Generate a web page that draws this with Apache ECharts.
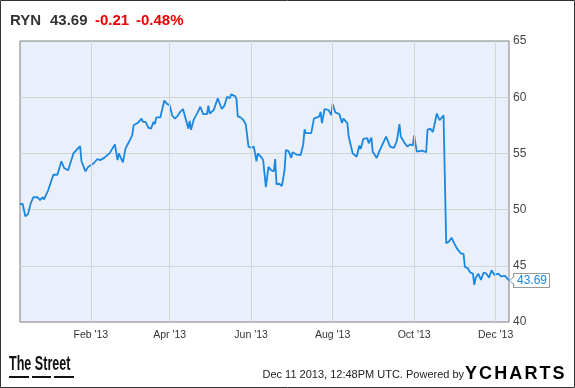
<!DOCTYPE html>
<html><head><meta charset="utf-8">
<script src="https://cdn.jsdelivr.net/npm/echarts@6/dist/echarts.min.js"></script>
<style>html,body{margin:0;padding:0;background:#fff}#c{width:575px;height:388px}</style>
</head><body><div id="c"></div>
<script>
const dates = ['2012-12-10','2012-12-12','2012-12-14','2012-12-16','2012-12-18','2012-12-20','2012-12-23','2012-12-25','2012-12-27','2012-12-28','2012-12-31',
'2013-01-04','2013-01-07','2013-01-10','2013-01-12','2013-01-15','2013-01-19','2013-01-22','2013-01-24','2013-01-25','2013-01-28','2013-01-30',
'2013-02-03','2013-02-04','2013-02-06','2013-02-08','2013-02-11','2013-02-15','2013-02-19','2013-02-21','2013-02-22','2013-02-25','2013-02-27',
'2013-03-01','2013-03-04','2013-03-05','2013-03-08','2013-03-11','2013-03-12','2013-03-14','2013-03-16','2013-03-18','2013-03-20','2013-03-21','2013-03-22','2013-03-25','2013-03-28','2013-03-30',
'2013-04-01','2013-04-03','2013-04-05','2013-04-07','2013-04-08','2013-04-09','2013-04-11','2013-04-12','2013-04-15','2013-04-16','2013-04-17','2013-04-19','2013-04-22','2013-04-24','2013-04-26','2013-04-29','2013-04-30',
'2013-05-01','2013-05-04','2013-05-07','2013-05-10','2013-05-12','2013-05-14','2013-05-16','2013-05-17','2013-05-20','2013-05-21','2013-05-22','2013-05-24','2013-05-26','2013-05-28','2013-05-30',
'2013-06-01','2013-06-03','2013-06-05','2013-06-06','2013-06-09','2013-06-10','2013-06-12','2013-06-14','2013-06-16','2013-06-18','2013-06-19','2013-06-20','2013-06-22','2013-06-24','2013-06-26','2013-06-27','2013-06-29',
'2013-07-01','2013-07-02','2013-07-05','2013-07-08','2013-07-10','2013-07-11','2013-07-12','2013-07-16','2013-07-18','2013-07-22','2013-07-23','2013-07-24','2013-07-26','2013-07-29','2013-07-31',
'2013-08-01','2013-08-03','2013-08-06','2013-08-08','2013-08-09','2013-08-12','2013-08-13','2013-08-16','2013-08-19','2013-08-21','2013-08-22','2013-08-24','2013-08-27','2013-08-28','2013-08-30','2013-08-31',
'2013-09-03','2013-09-05','2013-09-06','2013-09-10','2013-09-13','2013-09-16','2013-09-18','2013-09-20','2013-09-21','2013-09-24','2013-09-26','2013-09-28','2013-09-30',
'2013-10-01','2013-10-03','2013-10-05','2013-10-07','2013-10-10','2013-10-11','2013-10-13','2013-10-15','2013-10-18','2013-10-20','2013-10-21','2013-10-23','2013-10-25','2013-10-27','2013-10-29','2013-10-31',
'2013-11-02','2013-11-03','2013-11-05','2013-11-07','2013-11-08','2013-11-10','2013-11-12','2013-11-14','2013-11-15','2013-11-16','2013-11-18','2013-11-20','2013-11-22','2013-11-24','2013-11-26','2013-11-28','2013-11-30',
'2013-12-03','2013-12-05','2013-12-08','2013-12-11'];
const prices = [50.5,50.5,49.4,49.6,50.55,51.1,51.1,50.85,51.1,50.9,51.7,
53.1,53.1,54.3,53.7,53.5,55.0,55.4,55.65,54.3,53.4,53.8,
54.1,54.0,54.5,54.4,54.6,55.0,55.8,54.4,55.0,54.2,55.45,
55.9,56.6,57.5,57.7,58.1,57.8,57.8,57.3,57.2,57.8,57.6,58.2,58.2,59.7,59.4,
59.3,58.35,58.1,58.35,58.5,58.7,58.95,58.95,57.2,57.9,57.1,58.0,58.65,59.15,58.5,58.5,59.25,
58.55,58.85,59.9,58.95,59.25,60.05,59.9,60.25,60.1,59.85,58.3,58.2,58.0,57.6,55.6,
55.5,55.6,54.3,55.0,54.6,54.4,52.0,53.8,53.5,53.4,54.5,52.25,52.3,52.1,53.5,55.3,55.2,
54.6,55.1,54.9,54.85,55.8,57.15,56.8,56.8,58.1,58.3,58.7,57.7,58.95,58.85,58.4,
59.4,58.65,58.5,57.7,58.1,57.7,56.5,55.0,54.7,55.7,55.4,56.3,56.35,55.9,56.4,55.15,
54.6,55.2,55.15,56.5,55.6,55.5,56.1,57.6,56.5,55.9,55.6,55.8,55.7,
56.6,55.15,55.2,55.25,55.1,57.1,57.2,56.9,58.55,57.95,57.8,58.4,47.0,47.15,47.5,47.0,
46.55,46.7,46.1,46.05,44.9,44.8,44.4,44.3,43.3,43.9,44.3,43.75,44.4,44.3,43.95,44.6,44.2,
44.3,44.05,44.1,43.69];
const tickDates = ['2013-02-01','2013-04-01','2013-06-01','2013-08-01','2013-10-01','2013-12-01'];
const tickLabels = ["Feb '13","Apr '13","Jun '13","Aug '13","Oct '13","Dec '13"];
const xRange = ['2012-12-10','2013-12-11'];
const yRange = [40, 65];
const yStep = 5;
const headerParts = ['RYN','43.69','-0.21','-0.48%'];
const lastLabel = '43.69';
const footerLeft = 'The Street';
const footerText = 'Dec 11 2013, 12:48PM UTC. Powered by';
const brandLetters = ['Y','C','H','A','R','T','S'];

const chart = echarts.init(document.getElementById('c'), null, {renderer:'canvas'});
const F = 'Liberation Sans, Arial, sans-serif';
const richBrand = {y:{fontSize:18,fontWeight:'bold',fontFamily:F,color:'#1a8ad9',padding:[0,2.1,0,0]},
                   c:{fontSize:18,fontWeight:'bold',fontFamily:F,color:'#111',padding:[0,2.1,0,0]}};
const brandText = brandLetters.map((l,i)=>(i===0?'{y|':'{c|')+l+'}').join('');
chart.setOption({
  animation:false,
  backgroundColor:'#fff',
  grid:{left:20,right:66,top:41,bottom:66,show:true,backgroundColor:'#EAF0FB',borderColor:'#7d7d7d',borderWidth:1,containLabel:false,outerBoundsMode:'none'},
  xAxis:{type:'time',min:xRange[0],max:xRange[1],
    axisLine:{show:false},axisTick:{show:false},splitLine:{show:false},axisLabel:{show:false}},
  yAxis:{type:'value',position:'right',min:yRange[0],max:yRange[1],interval:yStep,
    axisLine:{show:false},axisTick:{show:false},
    splitLine:{show:true,showMinLine:false,showMaxLine:false,lineStyle:{color:'#d4d4d4',width:1}},
    axisLabel:{color:'#444',fontSize:12,fontFamily:F,margin:4}},
  series:[
    {type:'line',z:1,silent:true,showSymbol:false,lineStyle:{opacity:0},data:dates.map((d,i)=>[d,prices[i]]),
      markLine:{symbol:'none',silent:true,lineStyle:{color:'#d4d4d4',width:1,type:'solid'},
        label:{show:true,position:'start',distance:8,color:'#333',fontSize:10.5,fontFamily:F},
        data:tickDates.map((d,i)=>({xAxis:d,label:{formatter:tickLabels[i]}}))}},
    {type:'line',z:3,showSymbol:false,smooth:false,data:dates.map((d,i)=>[d,prices[i]]),
      lineStyle:{color:'#1a87e0',width:1.8},
      endLabel:{show:true,formatter:lastLabel,color:'#1a87e0',fontSize:12,fontFamily:F,backgroundColor:'#fff',
        borderColor:'#999',borderWidth:1,padding:[1,2,0,3],distance:5}}
  ]
});
const last = dates.length - 1;
const p = chart.convertToPixel({xAxisIndex:0,yAxisIndex:0},[dates[last],prices[last]]);
chart.setOption({graphic:[
    {type:'rect',shape:{x:0.5,y:0.5,width:574,height:387},style:{fill:'none',stroke:'#333',lineWidth:1},z:100,silent:true},
    {type:'text',x:10,y:20.8,style:{text:headerParts[0],font:'bold 15px '+F,fill:'#333',verticalAlign:'middle'}},
    {type:'text',x:50,y:20.8,style:{text:headerParts[1],font:'bold 15px '+F,fill:'#333',verticalAlign:'middle'}},
    {type:'text',x:95,y:20.8,style:{text:headerParts[2],font:'bold 15px '+F,fill:'#ee0000',verticalAlign:'middle'}},
    {type:'text',x:136,y:20.8,style:{text:headerParts[3],font:'bold 15px '+F,fill:'#ee0000',verticalAlign:'middle'}},
    {type:'text',x:9,y:365,scaleX:0.645,style:{text:footerLeft,font:'bold 19.5px '+F,fill:'#111',verticalAlign:'middle'}},
    {type:'rect',shape:{x:9,y:376,width:20,height:2},style:{fill:'#111'}},
    {type:'rect',shape:{x:32,y:376,width:19,height:2},style:{fill:'#111'}},
    {type:'rect',shape:{x:54,y:376,width:20,height:2},style:{fill:'#111'}},
    {type:'text',x:262.5,y:374.5,style:{text:footerText,font:'11px '+F,fill:'#222',verticalAlign:'middle'}},
    {type:'text',x:465,y:373.8,style:{text:brandText,verticalAlign:'middle',rich:richBrand}},
    {type:'polygon',z:200,shape:{points:[[p[0]+1.5,p[1]],[p[0]+6.5,p[1]-4.5],[p[0]+6.5,p[1]+4.5]]},style:{fill:'#fff'}},
    {type:'polyline',z:201,shape:{points:[[p[0]+5.5,p[1]-5],[p[0]+1,p[1]],[p[0]+5.5,p[1]+5]]},style:{stroke:'#999',lineWidth:1,fill:null}}
]});
</script></body></html>
